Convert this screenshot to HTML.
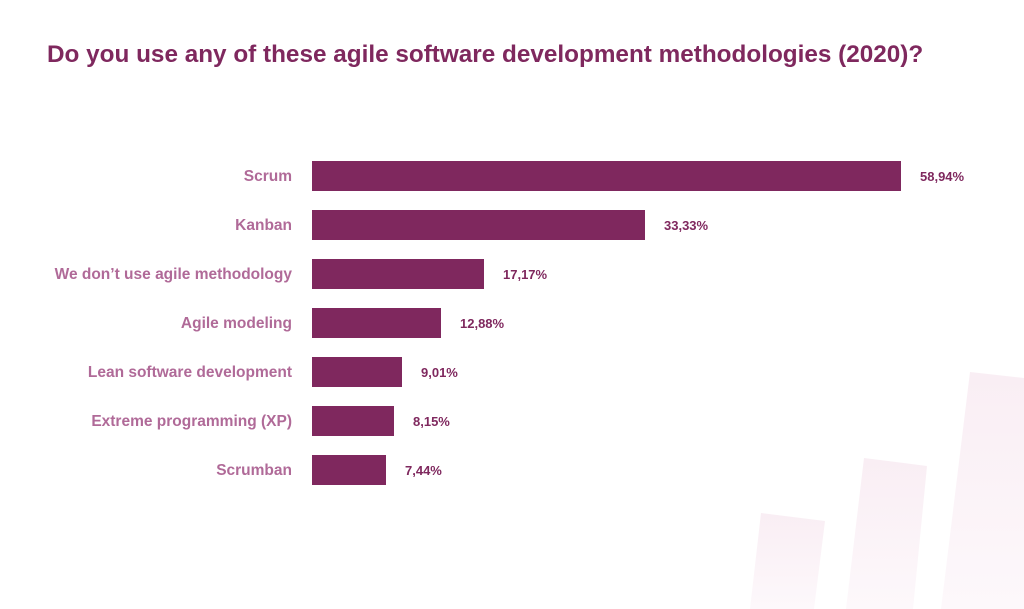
<!DOCTYPE html>
<html><head><meta charset="utf-8"><style>
body{margin:0;width:1024px;height:609px;background:#fff;overflow:hidden;position:relative;font-family:"Liberation Sans",sans-serif}
.t{position:absolute;left:47px;top:41px;font-size:24.3px;font-weight:bold;color:#7f285e;letter-spacing:0px;white-space:nowrap}
.l{position:absolute;right:732px;font-size:15.5px;font-weight:bold;color:#b06a98;text-align:right;white-space:nowrap}
.b{position:absolute;left:312px;height:30px;background:#7f285e}
.v{position:absolute;font-size:13px;font-weight:bold;color:#7f285e}
svg{position:absolute;left:0;top:0}
</style></head><body>
<svg width="1024" height="609"><defs><linearGradient id="g" x1="0" y1="0" x2="0" y2="1"><stop offset="0" stop-color="#f9eef4"/><stop offset="1" stop-color="#fdf8fb"/></linearGradient></defs>
<polygon points="761,513 825,521 814,609 750,609" fill="url(#g)"/>
<polygon points="864,458 927,466 913,609 846,609" fill="url(#g)"/>
<polygon points="970,372 1024,378 1024,609 941,609" fill="url(#g)"/>
</svg>
<div class="t">Do you use any of these agile software development methodologies (2020)?</div>
<div class="l" style="top:168px">Scrum</div><div class="b" style="top:161px;width:589px"></div><div class="v" style="left:920px;top:169px">58,94%</div>
<div class="l" style="top:217px">Kanban</div><div class="b" style="top:210px;width:333px"></div><div class="v" style="left:664px;top:218px">33,33%</div>
<div class="l" style="top:266px">We don’t use agile methodology</div><div class="b" style="top:259px;width:172px"></div><div class="v" style="left:503px;top:267px">17,17%</div>
<div class="l" style="top:315px">Agile modeling</div><div class="b" style="top:308px;width:129px"></div><div class="v" style="left:460px;top:316px">12,88%</div>
<div class="l" style="top:364px">Lean software development</div><div class="b" style="top:357px;width:90px"></div><div class="v" style="left:421px;top:365px">9,01%</div>
<div class="l" style="top:413px">Extreme programming (XP)</div><div class="b" style="top:406px;width:82px"></div><div class="v" style="left:413px;top:414px">8,15%</div>
<div class="l" style="top:462px">Scrumban</div><div class="b" style="top:455px;width:74px"></div><div class="v" style="left:405px;top:463px">7,44%</div>
</body></html>
